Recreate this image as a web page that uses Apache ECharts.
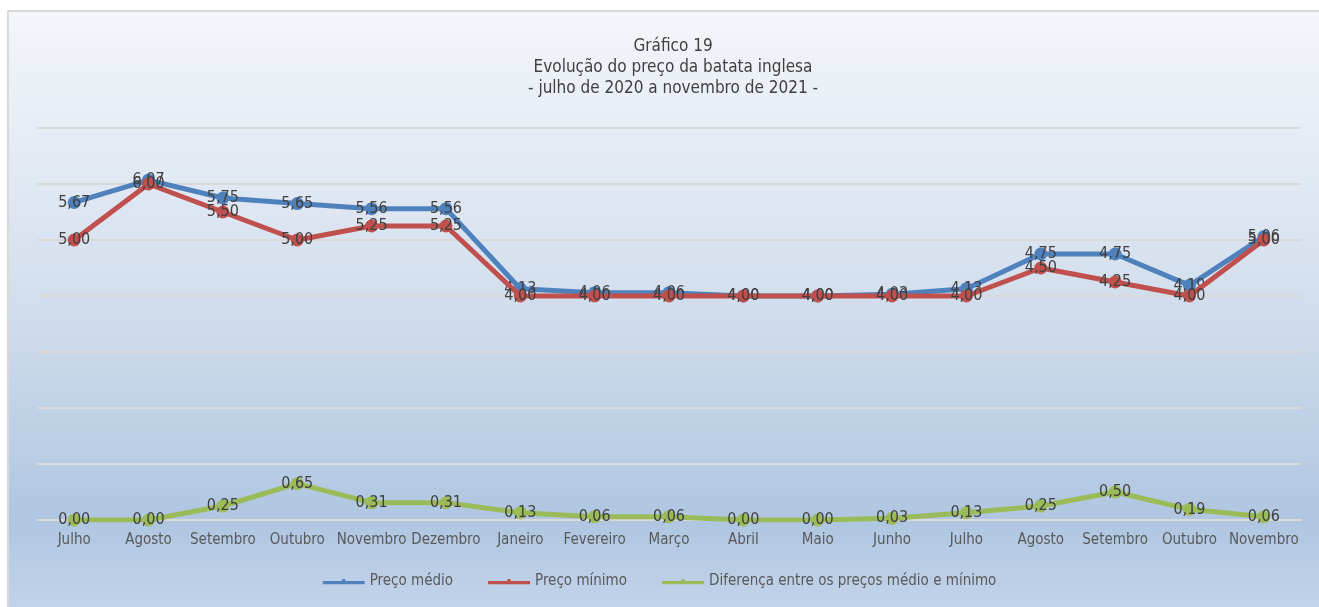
<!DOCTYPE html>
<html><head><meta charset="utf-8">
<script src="https://cdn.jsdelivr.net/npm/echarts@6/dist/echarts.min.js"></script>
<style>html,body{margin:0;padding:0;background:#fff}#c{width:1319px;height:607px}</style>
</head><body><div id="c"></div>
<script>
const categories = ["Julho","Agosto","Setembro","Outubro","Novembro","Dezembro","Janeiro","Fevereiro","Março","Abril","Maio","Junho","Julho","Agosto","Setembro","Outubro","Novembro"];
const precoMedio = [5.67,6.07,5.75,5.65,5.56,5.56,4.13,4.06,4.06,4.00,4.00,4.03,4.13,4.75,4.75,4.19,5.06];
const precoMinimo = [5.00,6.00,5.50,5.00,5.25,5.25,4.00,4.00,4.00,4.00,4.00,4.00,4.00,4.50,4.25,4.00,5.00];
const diferenca = [0.00,0.00,0.25,0.65,0.31,0.31,0.13,0.06,0.06,0.00,0.00,0.03,0.13,0.25,0.50,0.19,0.06];
const titleLines = ["Gráfico 19","Evolução do preço da batata inglesa","- julho de 2020 a novembro de 2021 -"];
const seriesNames = ["Preço médio","Preço mínimo","Diferença entre os preços médio e mínimo"];

const FONT = "'Liberation Sans Narrow', 'DejaVu Sans Condensed', sans-serif";
const chart = echarts.init(document.getElementById('c'));
const lbl = {
  show: true, position: 'inside', color: '#404040', fontFamily: FONT, fontSize: 16,
  formatter: p => p.value.toFixed(2).replace('.', ',')
};
function mk(name, data, color, z) {
  return {
    name, type: 'line', data, z,
    symbol: 'circle', symbolSize: 13,
    lineStyle: { width: 5, color },
    itemStyle: { color },
    label: lbl,
    emphasis: { disabled: true },
    animation: false
  };
}
chart.setOption({
  animation: false,
  graphic: [{
    type: 'rect', silent: true, z: -10,
    shape: { x: 8, y: 11, width: 1316, height: 600 },
    style: {
      fill: new echarts.graphic.LinearGradient(0, 0, 0, 1, [
        { offset: 0, color: '#f4f7fb' },
        { offset: 0.45, color: '#d5e0ee' },
        { offset: 0.85, color: '#afc6e1' },
        { offset: 1, color: '#c3d4ea' }
      ]),
      stroke: '#d9d9d9', lineWidth: 2
    }
  }],
  title: {
    text: titleLines.join('\n'), left: 668, textAlign: 'center', top: 31,
    textStyle: { fontFamily: FONT, fontSize: 17, fontWeight: 'normal', color: '#404040', lineHeight: 21 }
  },
  legend: {
    bottom: 13, left: 'center', itemGap: 35, itemWidth: 42, itemHeight: 10,
    icon: 'path://M0,4 L18,4 L19,2 L21,2 L22,4 L40,4 L40,7 L0,7 Z',
    textStyle: { fontFamily: FONT, fontSize: 15, color: '#595959' },
    data: seriesNames
  },
  grid: { left: 37, right: 18, top: 128, bottom: 87 },
  xAxis: {
    type: 'category', data: categories, boundaryGap: true,
    axisLine: { show: true, lineStyle: { color: '#d9d9d9', width: 2 } },
    axisTick: { show: false },
    axisLabel: { fontFamily: FONT, fontSize: 15, color: '#595959', margin: 13, interval: 0 }
  },
  yAxis: {
    type: 'value', min: 0, max: 7, interval: 1,
    axisLabel: { show: false }, axisLine: { show: false }, axisTick: { show: false },
    splitLine: { lineStyle: { color: '#d9d9d9', width: 2 } }
  },
  series: [
    mk(seriesNames[0], precoMedio, '#4f81bd', 2),
    mk(seriesNames[1], precoMinimo, '#c0504d', 3),
    mk(seriesNames[2], diferenca, '#9bbb59', 4)
  ]
});
</script></body></html>
